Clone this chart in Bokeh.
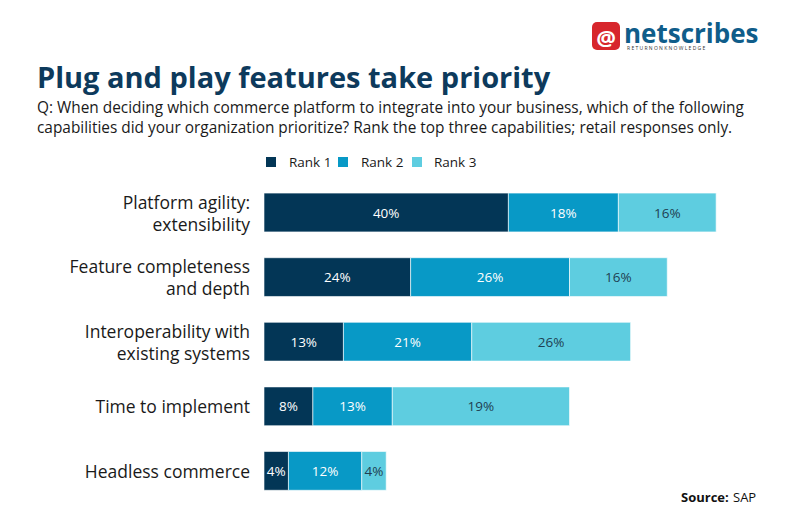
from bokeh.plotting import figure
from bokeh.models import ColumnDataSource, Range1d
from bokeh.core.properties import value
from bokeh.embed import file_html
from bokeh.resources import INLINE

# ---- data ----
categories = [
    ["Platform agility:", "extensibility"],
    ["Feature completeness", "and depth"],
    ["Interoperability with", "existing systems"],
    ["Time to implement"],
    ["Headless commerce"],
]
rank1 = [40, 24, 13, 8, 4]
rank2 = [18, 26, 21, 13, 12]
rank3 = [16, 16, 26, 29, 4]          # bar lengths as drawn
rank1_labels = ["40%", "24%", "13%", "8%", "4%"]
rank2_labels = ["18%", "26%", "21%", "13%", "12%"]
rank3_labels = ["16%", "16%", "26%", "19%", "4%"]
series_names = ["Rank 1", "Rank 2", "Rank 3"]
colors = ["#033656", "#0899c6", "#5ecde0"]
label_colors = ["white", "white", "#1f3f52"]

W, H = 776, 508
FONT = "Open Sans"
OFF = 0.5

# scale setup: pixel mapping
sx = 6.11
x_start = -(264 - OFF) / sx
x_end = x_start + W / sx
sy = 64.6
y_top = -(212.5 - OFF) / sy
y_bottom = y_top + H / sy

def X(px):
    return x_start + (px - OFF) / sx

def Y(py):
    return y_top + (py - OFF) / sy

p = figure(width=W, height=H, output_backend="svg", toolbar_location=None,
           x_range=Range1d(x_start, x_end), y_range=Range1d(y_bottom, y_top),
           min_border=0, min_border_left=0, min_border_right=0,
           min_border_top=0, min_border_bottom=0)
p.axis.visible = False
p.grid.visible = False
p.outline_line_color = None
p.background_fill_color = "white"

rows = list(range(len(rank1)))
vals = [rank1, rank2, rank3]
labs = [rank1_labels, rank2_labels, rank3_labels]
lefts = [0] * len(rows)
for k in range(3):
    rights = [l + v for l, v in zip(lefts, vals[k])]
    src = ColumnDataSource(dict(y=rows, left=lefts, right=rights,
                                mid=[(l + r) / 2 for l, r in zip(lefts, rights)],
                                lab=labs[k]))
    p.hbar(y="y", left="left", right="right", height=0.6, source=src,
           fill_color=colors[k], line_color="white", line_width=0.6)
    p.text(x="mid", y="y", text="lab", source=src, text_align="center",
           text_baseline="middle", text_font=value(FONT), text_font_size="13.5px",
           text_font_style="normal", text_color=label_colors[k])
    lefts = rights

# category labels
for i, lines in enumerate(categories):
    n = len(lines)
    for j, t in enumerate(lines):
        off = (j - (n - 1) / 2) * 22 / sy
        p.text(x=[X(250)], y=[i + off], text=[t], text_align="right",
               text_baseline="middle", text_font=value(FONT),
               text_font_size="17.5px", text_color="#1a1a1a")

# legend
leg_sq_x = [266, 338, 412]
leg_tx_x = [289, 361, 434]
for k in range(3):
    p.rect(x=[X(leg_sq_x[k] + 5)], y=[Y(162)], width=10 / sx, height=10 / sy,
           fill_color=colors[k], line_color=None)
    p.text(x=[X(leg_tx_x[k])], y=[Y(162)], text=[series_names[k]],
           text_baseline="middle", text_font=value(FONT), text_font_size="13.5px",
           text_color="#1a1a1a")

# title & subtitle
p.text(x=[X(37)], y=[Y(76)], text=["Plug and play features take priority"],
       text_baseline="middle", text_font=value(FONT), text_font_size="29px",
       text_font_style="bold", text_color="#0d3a5c")
p.text(x=[X(37)], y=[Y(107)],
       text=["Q: When deciding which commerce platform to integrate into your business, which of the following"],
       text_baseline="middle", text_font=value(FONT), text_font_size="15.4px",
       text_color="#1a1a1a")
p.text(x=[X(37)], y=[Y(127)],
       text=["capabilities did your organization prioritize? Rank the top three capabilities; retail responses only."],
       text_baseline="middle", text_font=value(FONT), text_font_size="15.4px",
       text_color="#1a1a1a")

# source
p.text(x=[X(681)], y=[Y(497)], text=["Source:"], text_baseline="middle",
       text_font=value(FONT), text_font_size="13px", text_font_style="bold",
       text_color="#111111")
p.text(x=[X(733)], y=[Y(497)], text=["SAP"], text_baseline="middle",
       text_font=value(FONT), text_font_size="13px", text_color="#111111")

# logo
p.rect(x=[X(606)], y=[Y(36)], width=28 / sx, height=28 / sy,
       fill_color="#d7262c", line_color=None, border_radius=5)
p.text(x=[X(606)], y=[Y(37)], text=["@"], text_align="center",
       text_baseline="middle", text_font=value(FONT), text_font_size="22px",
       text_font_style="bold", text_color="white")
p.text(x=[X(624)], y=[Y(33)], text=["netscribes"], text_baseline="middle",
       text_font=value(FONT), text_font_size="26px", text_font_style="bold",
       text_color="#0f5d8a")
p.text(x=[X(627)], y=[Y(48)], text=["R E T U R N   O N   K N O W L E D G E"],
       text_baseline="middle", text_font=value(FONT), text_font_size="5px",
       text_color="#333333")

open("out.html", "w").write(file_html(p, INLINE))
